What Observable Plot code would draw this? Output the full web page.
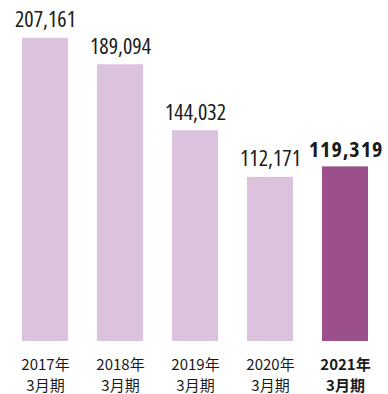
<!DOCTYPE html>
<html lang="ja">
<head>
<meta charset="utf-8">
<script src="https://cdn.jsdelivr.net/npm/d3@7"></script>
<script src="https://cdn.jsdelivr.net/npm/@observablehq/plot@0.6"></script>
<style>
  html, body { margin: 0; padding: 0; background: #fff; }
  #chart svg { display: block; }
  /* condensed figures for the value labels */
  #chart g[font-family*="Open Sans"] { font-stretch: 75%; }
  #chart g[font-family*="Open Sans"][font-weight="bold"] { font-stretch: 75%; letter-spacing: 1px; }
</style>
</head>
<body>
<div id="chart"></div>
<script>
// Fiscal periods and their values
const periods = ["2017年\n3月期", "2018年\n3月期", "2019年\n3月期", "2020年\n3月期", "2021年\n3月期"];
const values = [207161, 189094, 144032, 112171, 119319];
const highlight = "2021年\n3月期";

const rows = periods.map((p, i) => ({period: p, value: values[i], current: p === highlight}));
const past = rows.filter(d => !d.current);
const current = rows.filter(d => d.current);

const numFont = "'Open Sans', sans-serif";
const jpFont = "'Noto Sans CJK JP', 'Noto Sans', sans-serif";
const fmt = d3.format(",");

const chart = Plot.plot({
  width: 388,
  height: 394,
  marginTop: 19,
  marginBottom: 53,
  marginLeft: 6,
  marginRight: 4,
  x: {domain: periods, paddingInner: 0.39, paddingOuter: 0.195, axis: null},
  y: {domain: [0, 220000], axis: null},
  marks: [
    Plot.barY(rows, {x: "period", y: "value", fill: d => d.current ? "#9c508b" : "#dbc3dd"}),
    // value labels
    Plot.text(past, {x: "period", y: "value", text: d => fmt(d.value), dy: -11, lineAnchor: "bottom",
      fontFamily: numFont, fontSize: 22, fill: "#1a1a1a"}),
    Plot.text(current, {x: "period", y: "value", text: d => fmt(d.value), dy: -10, dx: 0.5, lineAnchor: "bottom",
      fontFamily: numFont, fontSize: 22, fontWeight: "bold", fill: "#1a1a1a"}),
    // period labels
    Plot.text(past, {x: "period", text: "period", frameAnchor: "bottom", lineAnchor: "top", dy: 13,
      lineHeight: 1.43, fontFamily: jpFont, fontSize: 15, fill: "#1a1a1a"}),
    Plot.text(current, {x: "period", text: "period", frameAnchor: "bottom", lineAnchor: "top", dy: 13,
      lineHeight: 1.43, fontFamily: jpFont, fontSize: 15, fontWeight: "bold", fill: "#1a1a1a"})
  ]
});
document.getElementById("chart").append(chart);
</script>
</body>
</html>
